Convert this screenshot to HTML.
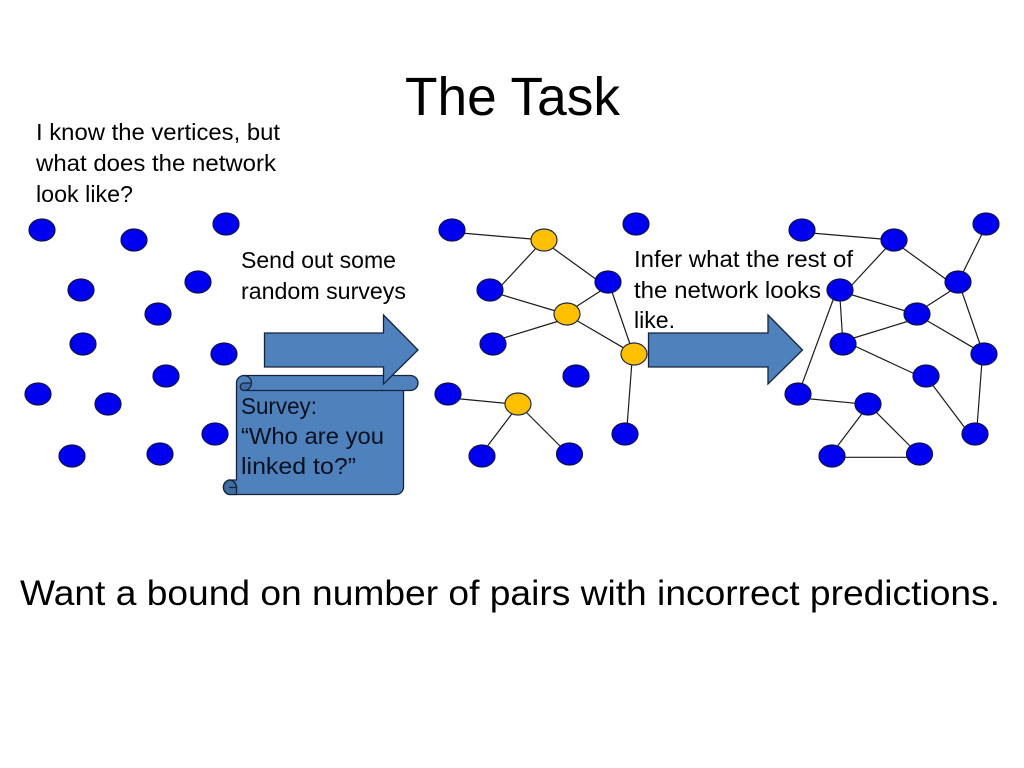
<!DOCTYPE html>
<html><head><meta charset="utf-8"><style>
html,body{margin:0;padding:0;background:#fff;width:1024px;height:768px;overflow:hidden}
svg{display:block}
text{font-family:"Liberation Sans",sans-serif;fill:#000}
.t{font-size:23px}
.l{stroke:#1c1c1c;stroke-width:1.2;fill:none}
.b{fill:#0000f0;stroke:#10104a;stroke-width:1.2}
.y{fill:#ffc000;stroke:#1f2a44;stroke-width:1.2}
.s{fill:#4f81bd;stroke:#14243c;stroke-width:1.3}
.c{fill:none;stroke:#14243c;stroke-width:1.3}
</style></head><body>
<svg width="1024" height="768" viewBox="0 0 1024 768" xmlns="http://www.w3.org/2000/svg">
<text x="405" y="115" font-size="54" textLength="215" lengthAdjust="spacingAndGlyphs">The Task</text>
<text class="t" x="36" y="140" textLength="244" lengthAdjust="spacingAndGlyphs">I know the vertices, but</text>
<text class="t" x="36" y="171" textLength="240" lengthAdjust="spacingAndGlyphs">what does the network</text>
<text class="t" x="36" y="202" textLength="97" lengthAdjust="spacingAndGlyphs">look like?</text>

<g>
<ellipse class="b" cx="42" cy="230" rx="13" ry="11"/><ellipse class="b" cx="134" cy="240" rx="13" ry="11"/><ellipse class="b" cx="226" cy="224" rx="13" ry="11"/>
<ellipse class="b" cx="81" cy="290" rx="13" ry="11"/><ellipse class="b" cx="198" cy="282" rx="13" ry="11"/><ellipse class="b" cx="158" cy="314" rx="13" ry="11"/>
<ellipse class="b" cx="83" cy="344" rx="13" ry="11"/><ellipse class="b" cx="224" cy="354" rx="13" ry="11"/><ellipse class="b" cx="166" cy="376" rx="13" ry="11"/>
<ellipse class="b" cx="38" cy="394" rx="13" ry="11"/><ellipse class="b" cx="108" cy="404" rx="13" ry="11"/><ellipse class="b" cx="215" cy="434" rx="13" ry="11"/>
<ellipse class="b" cx="72" cy="456" rx="13" ry="11"/><ellipse class="b" cx="160" cy="454" rx="13" ry="11"/>
</g>

<text class="t" x="241" y="268" textLength="155" lengthAdjust="spacingAndGlyphs">Send out some</text>
<text class="t" x="241" y="299" textLength="165" lengthAdjust="spacingAndGlyphs">random surveys</text>

<!-- scroll -->
<path class="s" d="M229 480 H236.500 V383 A7.500 7.500 0 0 1 244 375.500 H410.500 A7.500 7.500 0 0 1 410.500 390.500 H403.500 V487 A7.500 7.500 0 0 1 396 494.500 H229 A7.500 7.500 0 0 1 229 480 Z"/>
<path d="M244 383 A3.700 3.700 0 0 0 244 390.500 A7.500 7.500 0 0 0 251.500 383 Z" style="fill:#3f6d9f;stroke:none"/>
<path class="c" d="M244 375.500 A7.500 7.500 0 0 1 244 390.500 H403.500 M244 390.500 A3.700 3.700 0 0 1 244 383 H251.500"/>
<path d="M229 480 A7.500 7.500 0 0 0 229 494.500 H236.500 V487 A7.500 7.500 0 0 0 229 480 Z" style="fill:#3f6d9f;stroke:#14243c;stroke-width:1.3"/>
<path class="c" d="M229 480 A7.500 7.500 0 0 1 236.500 487.500 H229"/>
<text class="t" x="241" y="414" textLength="76" lengthAdjust="spacingAndGlyphs" style="fill:#06101e">Survey:</text>
<text class="t" x="241" y="444" textLength="143" lengthAdjust="spacingAndGlyphs" style="fill:#06101e">“Who are you</text>
<text class="t" x="241" y="474" textLength="115" lengthAdjust="spacingAndGlyphs" style="fill:#06101e">linked to?”</text>

<!-- arrow 1 -->
<path class="s" d="M264.500 333 H383.500 V315 L418 350 L383.500 384 V367 H264.500 Z"/>

<!-- graph 2 -->
<g>
<path class="l" d="M461 233L536 239.400M538 246L500 287M550 246L599 281.400M499 294L559 312M602 290L574 308M502 338.500L559 321M575 319.500L625 348.700M611 289L631 347M632 361L627 427M457 398.600L510 403.700M514 411L486 448M524 410L563 449"/>
<ellipse class="b" cx="452" cy="230" rx="13" ry="11"/><ellipse class="y" cx="544" cy="240" rx="13" ry="11"/><ellipse class="b" cx="636" cy="224" rx="13" ry="11"/>
<ellipse class="b" cx="490" cy="290" rx="13" ry="11"/><ellipse class="b" cx="608" cy="282" rx="13" ry="11"/><ellipse class="y" cx="567" cy="314" rx="13" ry="11"/>
<ellipse class="b" cx="493" cy="344" rx="13" ry="11"/><ellipse class="y" cx="634" cy="354" rx="13" ry="11"/><ellipse class="b" cx="576" cy="376" rx="13" ry="11"/>
<ellipse class="b" cx="448" cy="394" rx="13" ry="11"/><ellipse class="y" cx="518" cy="404" rx="13" ry="11"/><ellipse class="b" cx="625" cy="434" rx="13" ry="11"/>
<ellipse class="b" cx="482" cy="456" rx="13" ry="11"/><ellipse class="b" cx="569.500" cy="454" rx="13" ry="11"/>
</g>

<text class="t" x="634" y="267" textLength="219" lengthAdjust="spacingAndGlyphs">Infer what the rest of</text>
<text class="t" x="634" y="298" textLength="187" lengthAdjust="spacingAndGlyphs">the network looks</text>
<text class="t" x="634" y="328" textLength="41" lengthAdjust="spacingAndGlyphs">like.</text>

<!-- arrow 2 -->
<path class="s" d="M648.500 333 H768 V315 L802.500 350 L768 384 V367 H648.500 Z"/>

<!-- graph 3 -->
<g>
<path class="l" d="M811 233L886 239.400M888 246L850 287M900 246L949 281.400M849 294L909 312M952 290L924 308M852 338.500L909 321M925 319.500L975 348.700M961 289L981 347M982 361L977 427M807 398.600L860 403.700M864 411L836 448M874 410L913 449M983.500 231L961.500 275.500M840 298L842.500 337M834.500 296L801 387M852.500 345L917 375M931.500 383.500L966.500 430M841 457.300L910 457.300"/>
<ellipse class="b" cx="802" cy="230" rx="13" ry="11"/><ellipse class="b" cx="894" cy="240" rx="13" ry="11"/><ellipse class="b" cx="986" cy="224" rx="13" ry="11"/>
<ellipse class="b" cx="840" cy="290" rx="13" ry="11"/><ellipse class="b" cx="958" cy="282" rx="13" ry="11"/><ellipse class="b" cx="917" cy="314" rx="13" ry="11"/>
<ellipse class="b" cx="843" cy="344" rx="13" ry="11"/><ellipse class="b" cx="984" cy="354" rx="13" ry="11"/><ellipse class="b" cx="926" cy="376" rx="13" ry="11"/>
<ellipse class="b" cx="798" cy="394" rx="13" ry="11"/><ellipse class="b" cx="868" cy="404" rx="13" ry="11"/><ellipse class="b" cx="975" cy="434" rx="13" ry="11"/>
<ellipse class="b" cx="832" cy="456" rx="13" ry="11"/><ellipse class="b" cx="919.500" cy="454" rx="13" ry="11"/>
</g>

<text x="20" y="605" font-size="35" textLength="980" lengthAdjust="spacingAndGlyphs">Want a bound on number of pairs with incorrect predictions.</text>
</svg>
</body></html>
